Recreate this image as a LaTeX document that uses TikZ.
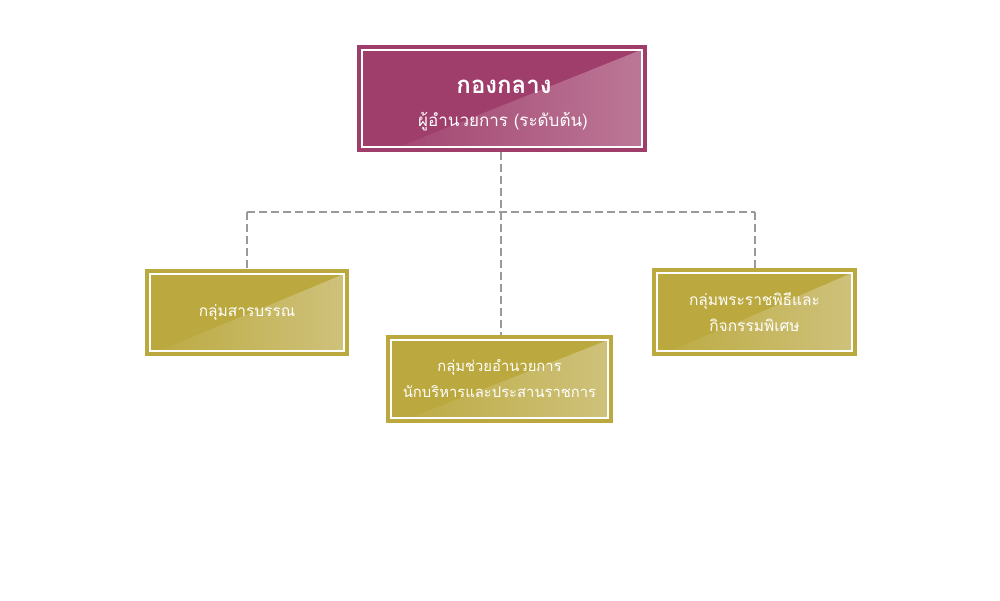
\documentclass[tikz,border=0pt]{standalone}
\usepackage{fontspec}
\newfontfamily\thaifont[Script=Thai]{Loma}
\definecolor{magbase}{HTML}{9F3E6B}
\definecolor{maglight}{HTML}{BC7897}
\definecolor{goldbase}{HTML}{BBA93F}
\definecolor{goldlight}{HTML}{CFC27C}
\definecolor{linegray}{HTML}{999999}
\pgfkeys{/tikz/diagstart/.store in=\diagstart, /tikz/diagstart=5pt}
\tikzset{
  boxbase/.style={inner sep=0pt, text=white, align=center, font=\thaifont\fontsize{15.5}{26}\selectfont,
    path picture={
      \shade[left color=#1base, right color=#1light]
        ([shift={(\diagstart,5pt)}]path picture bounding box.south west) --
        ([shift={(-5pt,-5pt)}]path picture bounding box.north east) --
        ([shift={(-5pt,5pt)}]path picture bounding box.south east) -- cycle;
      \draw[white, line width=2pt]
        ([shift={(5pt,5pt)}]path picture bounding box.south west) rectangle
        ([shift={(-5pt,-5pt)}]path picture bounding box.north east);
    }},
  magbox/.style={boxbase=mag, fill=magbase},
  goldbox/.style={boxbase=gold, fill=goldbase},
  toptext/.style={text=white, inner sep=0pt, font=\thaifont},
  conn/.style={draw=linegray, line width=2pt, dash pattern=on 8pt off 4pt}
}
\begin{document}
\begin{tikzpicture}[x=1pt,y=-1pt]
\useasboundingbox (0,0) rectangle (1000,600);
\node[magbox, diagstart=43pt, minimum width=290pt, minimum height=107pt] (top) at (502,98) {};
\node[toptext, font=\thaifont\fontsize{24}{30}\selectfont\bfseries] (title) at (504,87) {กองกลาง};
\node[toptext, font=\thaifont\fontsize{17}{20}\selectfont] (sub) at (503,122) {ผู้อำนวยการ (ระดับต้น)};
\node[goldbox, diagstart=14pt, minimum width=204pt, minimum height=87pt] (left) at (247,312.5) {กลุ่มสารบรรณ};
\node[goldbox, diagstart=24pt, minimum width=227pt, minimum height=88pt, font=\thaifont\fontsize{14.8}{26}\selectfont] (mid) at (499.5,379) {กลุ่มช่วยอำนวยการ\\นักบริหารและประสานราชการ};
\node[goldbox, diagstart=18pt, minimum width=205pt, minimum height=88pt] (right) at (754.5,312) {กลุ่มพระราชพิธีและ\\กิจกรรมพิเศษ};
\coordinate (hub) at (500.5,212);
\coordinate (hl) at (247,212);
\coordinate (hr) at (755,212);
\draw[conn] (top.south -| hub) -- (hub);
\draw[conn] (hl) -- (hr);
\draw[conn] (hl) -- (left.north -| hl);
\draw[conn] (hr) -- (right.north -| hr);
\draw[conn] (hub) -- (mid.north -| hub);
\end{tikzpicture}
\end{document}
